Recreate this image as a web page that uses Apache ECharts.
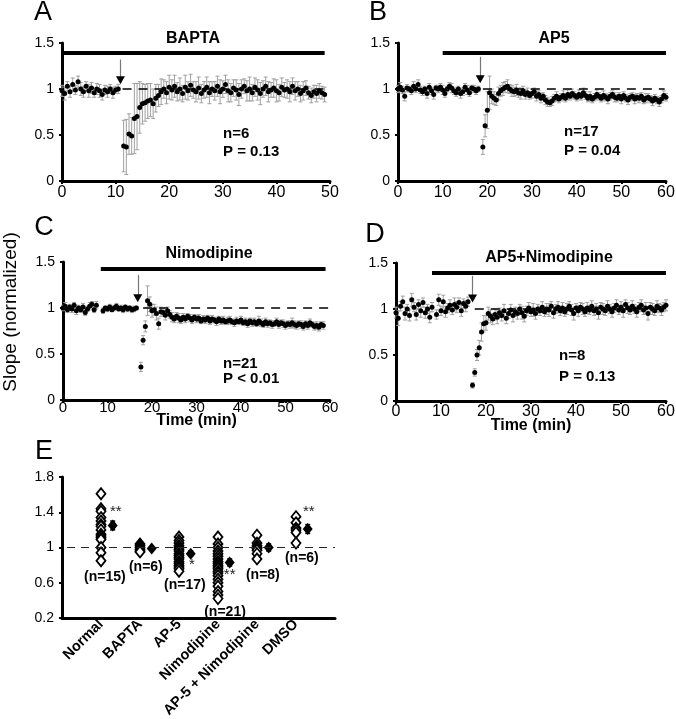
<!DOCTYPE html>
<html><head><meta charset="utf-8">
<script src="https://cdn.jsdelivr.net/npm/echarts@6/dist/echarts.min.js"></script>
<style>html,body{margin:0;padding:0;background:#fff}#c{width:676px;height:719px}</style>
</head><body><div id="c"></div>
<script>
const FONT = "'Liberation Sans', Arial, sans-serif";
const STEP = 0.5; // minutes between sweeps

// Panel A: BAPTA (t = 0 .. 49 min)
const slopeA = [0.98,0.95,1.03,0.97,1.05,0.99,1.08,1.00,0.97,1.03,0.98,1.01,0.96,1.00,0.98,0.94,0.99,0.97,1.00,0.96,0.99,1.00,
 null,
 0.38,0.37,0.51,0.49,0.68,0.70,0.80,0.84,0.85,0.87,
 0.88,0.84,0.90,0.93,0.97,1.00,0.96,1.02,0.99,1.03,
 0.97,1.00,0.95,1.02,0.98,1.04,0.99,0.97,1.01,0.95,
 0.99,1.02,0.96,1.00,0.98,1.03,0.97,1.00,1.05,0.98,
 0.96,1.01,0.99,0.94,1.00,1.03,0.98,1.00,0.96,1.02,
 0.99,0.95,1.00,1.03,0.97,0.99,1.01,0.98,0.96,1.02,
 0.99,1.00,0.97,1.03,0.98,1.00,0.95,0.98,1.01,0.96,
 0.93,0.97,0.95,0.98,0.96,0.94];
const errA = [0.06,0.07,0.05,0.06,0.07,0.05,0.06,0.07,0.06,0.05,0.07,0.06,0.05,0.06,0.07,0.06,0.05,0.06,0.05,0.06,0.04,0.05,
 null,
 0.28,0.30,0.22,0.20,0.38,0.36,0.28,0.22,0.20,0.19,
 0.18,0.16,0.15,0.12,0.14,0.10,0.12,0.13,0.11,0.12,
 0.10,0.12,0.09,0.13,0.10,0.12,0.09,0.11,0.12,0.10,
 0.09,0.11,0.12,0.08,0.10,0.11,0.13,0.09,0.10,0.12,
 0.10,0.09,0.11,0.12,0.10,0.08,0.11,0.13,0.09,0.10,
 0.11,0.12,0.09,0.10,0.11,0.08,0.10,0.12,0.09,0.10,
 0.08,0.10,0.11,0.09,0.10,0.08,0.09,0.10,0.08,0.07,
 0.08,0.07,0.09,0.08,0.07,0.08];

// Panel B: AP5 (t = 0 .. 60 min)
const slopeB = [1.00,1.02,0.99,0.92,1.01,1.00,0.98,1.03,1.00,1.05,
 0.99,0.97,1.00,0.95,1.02,0.98,0.94,1.01,1.00,1.02,
 0.99,0.95,1.00,1.03,1.01,0.98,0.96,1.00,0.95,0.97,
 1.02,0.99,0.96,1.01,1.00,0.98,1.00,
 null,
 0.37,0.60,0.77,0.96,0.92,0.90,0.88,0.95,0.98,1.00,
 1.02,1.03,1.00,0.98,0.97,0.99,0.96,0.95,0.98,0.94,
 0.96,0.93,0.95,0.97,0.92,0.94,0.90,0.92,0.88,0.86,
 0.85,0.87,0.90,0.92,0.89,0.91,0.93,0.90,0.94,0.92,
 0.95,0.93,0.91,0.94,0.92,0.96,0.93,0.90,0.92,0.89,
 0.91,0.94,0.92,0.90,0.93,0.91,0.89,0.92,0.94,0.91,
 0.90,0.92,0.89,0.93,0.90,0.88,0.91,0.92,0.89,0.91,
 0.90,0.92,0.88,0.90,0.91,0.89,0.87,0.90,0.88,0.86,
 0.89,0.93,0.91];
const errB = [0.04,0.05,0.04,0.05,0.04,0.03,0.04,0.05,0.04,0.05,
 0.04,0.04,0.03,0.05,0.04,0.04,0.05,0.03,0.04,0.04,
 0.05,0.04,0.03,0.04,0.05,0.04,0.04,0.03,0.05,0.04,
 0.04,0.05,0.04,0.03,0.04,0.04,0.03,
 null,
 0.08,0.12,0.20,0.18,0.08,0.07,0.06,0.07,0.06,0.07,
 0.06,0.07,0.05,0.06,0.05,0.06,0.05,0.06,0.05,0.05,
 0.05,0.04,0.05,0.04,0.05,0.04,0.05,0.04,0.05,0.05,
 0.04,0.05,0.04,0.05,0.04,0.04,0.05,0.04,0.05,0.04,
 0.05,0.04,0.04,0.05,0.04,0.05,0.04,0.04,0.05,0.04,
 0.04,0.05,0.04,0.04,0.05,0.04,0.05,0.04,0.04,0.05,
 0.04,0.04,0.05,0.04,0.04,0.05,0.04,0.04,0.05,0.04,
 0.05,0.04,0.04,0.05,0.04,0.04,0.05,0.04,0.04,0.05,
 0.04,0.05,0.04];

// Panel C: Nimodipine (t = 0 .. 58.5 min)
const slopeC = [1.00,1.02,0.98,1.01,0.99,1.03,0.97,1.00,0.98,1.01,0.95,0.99,1.02,1.04,0.98,1.03,
 null,null,
 0.97,1.00,0.99,1.01,0.98,1.00,1.02,0.99,1.00,0.98,1.01,0.99,1.00,0.98,0.99,1.00,
 null,
 0.36,0.65,0.80,1.08,1.04,0.97,0.98,0.94,0.83,0.96,
 0.95,0.92,0.97,0.93,0.90,0.88,0.91,0.89,0.87,0.90,
 0.88,0.91,0.89,0.87,0.90,0.88,0.89,0.86,0.88,0.87,
 0.89,0.86,0.88,0.87,0.85,0.88,0.86,0.87,0.85,0.86,
 0.87,0.85,0.84,0.86,0.85,0.87,0.84,0.85,0.83,0.86,
 0.84,0.85,0.83,0.86,0.84,0.82,0.85,0.83,0.84,0.82,
 0.83,0.85,0.82,0.84,0.83,0.81,0.83,0.82,0.84,0.82,
 0.81,0.83,0.82,0.80,0.83,0.81,0.84,0.82,0.80,0.81,
 0.79,0.82,0.81];
const errC = [0.03,0.04,0.03,0.03,0.04,0.03,0.04,0.03,0.03,0.04,0.03,0.03,0.04,0.03,0.03,0.04,
 null,null,
 0.03,0.02,0.03,0.03,0.02,0.03,0.03,0.02,0.03,0.03,0.02,0.03,0.02,0.03,0.03,0.02,
 null,
 0.05,0.05,0.06,0.16,0.08,0.07,0.06,0.07,0.06,0.05,
 0.04,0.05,0.04,0.04,0.05,0.04,0.04,0.05,0.04,0.04,
 0.04,0.03,0.04,0.04,0.03,0.04,0.04,0.03,0.04,0.04,
 0.03,0.04,0.04,0.03,0.04,0.03,0.04,0.04,0.03,0.04,
 0.04,0.03,0.04,0.04,0.03,0.04,0.03,0.04,0.04,0.03,
 0.04,0.04,0.03,0.05,0.04,0.03,0.04,0.04,0.03,0.04,
 0.03,0.04,0.04,0.03,0.04,0.04,0.03,0.04,0.05,0.04,
 0.04,0.03,0.04,0.04,0.03,0.04,0.04,0.03,0.04,0.04,
 0.04,0.03,0.04];

// Panel D: AP5 + Nimodipine (t = 0 .. 60 min)
const slopeD = [0.96,0.90,1.03,1.08,0.95,1.00,0.93,1.10,1.02,0.94,1.05,0.98,1.07,0.96,1.00,0.91,1.02,
 null,
 0.94,1.10,0.98,1.08,0.97,1.01,1.04,0.99,1.05,1.02,1.07,0.98,1.06,1.03,1.08,
 null,
 0.17,0.31,0.50,0.58,0.75,0.84,0.85,0.95,0.92,0.89,
 0.94,0.91,0.96,0.93,0.98,0.90,0.95,0.99,0.93,0.97,
 0.95,1.00,0.96,0.92,0.98,1.01,0.97,0.99,0.95,1.00,
 0.98,1.02,0.97,1.00,0.99,1.03,0.96,1.00,1.02,0.98,
 1.01,0.97,1.00,1.03,0.99,0.95,1.01,0.98,1.02,1.00,
 0.97,1.01,0.99,1.03,0.98,1.00,0.96,1.02,1.00,0.98,
 1.03,1.00,0.97,1.01,1.04,0.99,1.02,0.98,1.05,1.01,
 0.99,1.03,1.00,0.97,1.02,1.04,0.99,1.01,0.95,1.02,
 1.00,0.98,1.03,1.01,0.99,1.02,1.04];
const errD = [0.06,0.08,0.05,0.06,0.07,0.05,0.06,0.07,0.05,0.06,0.05,0.07,0.05,0.06,0.05,0.06,0.05,
 null,
 0.05,0.06,0.05,0.07,0.06,0.05,0.06,0.05,0.07,0.06,0.05,0.06,0.05,0.06,0.05,
 null,
 0.03,0.04,0.06,0.08,0.10,0.09,0.08,0.07,0.07,0.06,
 0.06,0.07,0.05,0.06,0.07,0.06,0.05,0.06,0.07,0.05,
 0.06,0.05,0.07,0.06,0.05,0.06,0.05,0.07,0.06,0.05,
 0.05,0.06,0.05,0.06,0.07,0.05,0.06,0.05,0.06,0.05,
 0.06,0.05,0.06,0.05,0.06,0.07,0.05,0.06,0.05,0.06,
 0.05,0.06,0.05,0.06,0.05,0.06,0.07,0.05,0.06,0.05,
 0.06,0.05,0.06,0.05,0.06,0.05,0.06,0.07,0.05,0.06,
 0.05,0.06,0.05,0.06,0.05,0.06,0.05,0.06,0.07,0.05,
 0.06,0.05,0.06,0.05,0.06,0.05,0.06];

// Panel E: individual normalized slopes
const catNames = ['Normal','BAPTA','AP-5','Nimodipine','AP-5 + Nimodipine','DMSO'];
const normalVals = [1.61,1.44,1.41,1.34,1.30,1.26,1.24,1.20,1.15,1.13,1.11,1.09,1.00,0.94,0.85];
const baptaVals = [1.04,1.02,1.00,0.98,0.96,0.95];
const ap5Vals = [1.12,1.08,1.05,1.02,1.00,0.98,0.96,0.93,0.91,0.89,0.87,0.84,0.82,0.80,0.78,0.76,0.73];
const nimoVals = [1.12,1.04,1.00,0.96,0.93,0.90,0.87,0.84,0.82,0.80,0.78,0.76,0.73,0.71,0.68,0.64,0.60,0.56,0.50,0.46,0.42];
const ap5NimoVals = [1.14,1.05,1.02,1.00,0.99,0.97,0.93,0.87];
const dmsoVals = [1.35,1.28,1.22,1.20,1.17,1.05];
const meanVals = [1.25,0.99,0.93,0.83,1.00,1.21];
const meanErr = [0.05,0.02,0.03,0.04,0.04,0.05];
const sigMarks = ['**','','*','**','','**'];

// ---------- annotation layout (not data) ----------
const panels = [
  {vals: slopeA, errs: errA, xmax: 50, arrow: [10.9, 1.32, 1.05], bar: [0, 49, 1.39], dash: [11.3, 49.5]},
  {vals: slopeB, errs: errB, xmax: 60, arrow: [18.4, 1.35, 1.06], bar: [10, 60, 1.39], dash: [19, 59.7]},
  {vals: slopeC, errs: errC, xmax: 60, arrow: [16.8, 1.36, 1.06], bar: [8.5, 59, 1.43], dash: [18, 59.7]},
  {vals: slopeD, errs: errD, xmax: 60, arrow: [17.0, 1.36, 1.07], bar: [8, 60, 1.39], dash: [17.5, 60]}
];
const grids = [
  {left: 62, top: 43, width: 268, height: 138},
  {left: 398, top: 43, width: 268, height: 138},
  {left: 63, top: 262, width: 267, height: 138},
  {left: 396, top: 263, width: 270, height: 138},
  {left: 62, top: 477, width: 273, height: 141}
].map(g => Object.assign(g, {containLabel: false, outerBoundsMode: 'none'}));
const xLabelMargin = [4, 4, 0, 3];
const xLabelSize = [16, 16, 15, 16];
const xNameGap = [0, 0, 13, 17];

function errRender(color, cap, width) {
  return function (params, api) {
    const x = api.value(0), y = api.value(1), e = api.value(2);
    const hi = api.coord([x, y + e]), lo = api.coord([x, y - e]);
    const st = {stroke: color, lineWidth: width};
    return {type: 'group', children: [
      {type: 'line', shape: {x1: hi[0], y1: hi[1], x2: lo[0], y2: lo[1]}, style: st},
      {type: 'line', shape: {x1: hi[0] - cap, y1: hi[1], x2: hi[0] + cap, y2: hi[1]}, style: st},
      {type: 'line', shape: {x1: lo[0] - cap, y1: lo[1], x2: lo[0] + cap, y2: lo[1]}, style: st}
    ]};
  };
}

const axisLineStyle = {show: true, onZero: false, lineStyle: {color: '#000', width: 3}};
const tickStyle = {show: true, length: 3, lineStyle: {color: '#000', width: 2}};

const xAxes = [], yAxes = [], series = [];
panels.forEach((p, gi) => {
  xAxes.push({gridIndex: gi, type: 'value', min: 0, max: p.xmax, interval: 10,
    axisLine: axisLineStyle, axisTick: tickStyle, splitLine: {show: false},
    axisLabel: {color: '#000', fontSize: xLabelSize[gi], fontFamily: FONT, margin: xLabelMargin[gi]},
    name: gi >= 2 ? 'Time (min)' : '', nameLocation: 'middle', nameGap: xNameGap[gi], nameMoveOverlap: false,
    nameTextStyle: {color: '#000', fontSize: 16, fontWeight: 'bold', fontFamily: FONT}});
  yAxes.push({gridIndex: gi, type: 'value', min: 0, max: 1.5, interval: 0.5,
    axisLine: axisLineStyle, axisTick: tickStyle, splitLine: {show: false},
    axisLabel: {color: '#000', fontSize: 14, fontFamily: FONT, margin: 8}});
  const pts = [], eb = [];
  p.vals.forEach((v, i) => { if (v == null) return; const t = i * STEP; pts.push([t, v]); eb.push([t, v, p.errs[i]]); });
  const barStyle = {color: '#000', width: 4, type: 'solid'};
  const dashStyle = {color: '#000', width: 1.5, type: [9, 7]};
  const shaftStyle = {color: '#777', width: 1.2, type: 'solid'};
  series.push({type: 'custom', xAxisIndex: gi, yAxisIndex: gi, data: eb, encode: {x: 0, y: 1},
    renderItem: errRender('#a0a0a0', 2, 1), z: 1, silent: true,
    markLine: {silent: true, symbol: 'none', label: {show: false}, animation: false,
      data: [
        [{coord: [p.bar[0], p.bar[2]], lineStyle: barStyle}, {coord: [p.bar[1], p.bar[2]], lineStyle: barStyle}],
        [{coord: [p.dash[0], 1], lineStyle: dashStyle}, {coord: [p.dash[1], 1], lineStyle: dashStyle}],
        [{coord: [p.arrow[0], p.arrow[1]], lineStyle: shaftStyle}, {coord: [p.arrow[0], p.arrow[2] + 0.07], lineStyle: shaftStyle}]
      ]}});
  series.push({type: 'scatter', xAxisIndex: gi, yAxisIndex: gi, data: pts, symbol: 'circle', symbolSize: 5,
    itemStyle: {color: '#000', opacity: 1}, z: 3, silent: true,
    markPoint: {symbol: 'triangle', symbolSize: [9, 8], symbolRotate: 180, silent: true, animation: false,
      itemStyle: {color: '#000', opacity: 1}, label: {show: false},
      data: [{coord: [p.arrow[0], p.arrow[2] + 0.045]}]}});
});

// Panel E
const groups = [normalVals, baptaVals, ap5Vals, nimoVals, ap5NimoVals, dmsoVals];
xAxes.push({gridIndex: 4, type: 'value', min: 0, max: 7, interval: 1,
  axisLine: axisLineStyle, axisTick: {show: false}, splitLine: {show: false},
  axisLabel: {color: '#000', fontSize: 14.5, fontWeight: 'bold', fontFamily: FONT, rotate: 45, margin: 4,
    formatter: v => (v >= 1 && v <= 6) ? catNames[v - 1] : ''}});
yAxes.push({gridIndex: 4, type: 'value', min: 0.2, max: 1.8, interval: 0.4,
  axisLine: axisLineStyle, axisTick: tickStyle, splitLine: {show: false},
  axisLabel: {color: '#000', fontSize: 14, fontFamily: FONT, margin: 8}});
const meanOffset = 0.3;
const lineE = {color: '#222', width: 1, type: [8, 6]};
series.push({type: 'custom', xAxisIndex: 4, yAxisIndex: 4,
  data: meanVals.map((m, k) => [k + 1 + meanOffset, m, meanErr[k]]), encode: {x: 0, y: 1},
  renderItem: errRender('#000', 2.5, 1.5), z: 1, silent: true,
  markLine: {silent: true, symbol: 'none', label: {show: false}, animation: false,
    data: [[{coord: [0.13, 1], lineStyle: lineE}, {coord: [7, 1], lineStyle: lineE}]]}});
series.push({type: 'scatter', xAxisIndex: 4, yAxisIndex: 4, z: 2, silent: true,
  data: groups.flatMap((g, k) => g.map(v => [k + 1, v])),
  symbol: 'diamond', symbolSize: [9, 11],
  itemStyle: {color: '#fff', borderColor: '#000', borderWidth: 1.8, opacity: 1}});
series.push({type: 'scatter', xAxisIndex: 4, yAxisIndex: 4, z: 3, silent: true,
  data: meanVals.map((m, k) => [k + 1 + meanOffset, m]),
  symbol: 'diamond', symbolSize: [10, 12], itemStyle: {color: '#000', opacity: 1}});
// n labels and significance marks placed in data space
const nLabelPos = [[1.1, 0.665], [2.15, 0.78], [3.15, 0.575], [4.18, 0.27], [5.15, 0.69], [6.15, 0.88]];
const sigPos = [[1.38, 1.41], [2.4, 1.0], [3.33, 0.80], [4.3, 0.69], [5.4, 1.0], [6.33, 1.40]];
series.push({type: 'scatter', xAxisIndex: 4, yAxisIndex: 4, z: 4, silent: true, symbolSize: 0,
  itemStyle: {opacity: 1},
  data: groups.map((g, k) => ({value: nLabelPos[k], name: '(n=' + g.length + ')'})),
  label: {show: true, position: 'inside', formatter: '{b}', color: '#000', fontSize: 14, fontWeight: 'bold', fontFamily: FONT}});
series.push({type: 'scatter', xAxisIndex: 4, yAxisIndex: 4, z: 4, silent: true, symbolSize: 0,
  itemStyle: {opacity: 1},
  data: sigMarks.map((s, k) => ({value: sigPos[k], name: s})).filter(d => d.name),
  label: {show: true, position: 'inside', formatter: '{b}', color: '#222', fontSize: 15, fontFamily: FONT}});

function txt(text, x, y, font, align, extra) {
  return Object.assign({type: 'text', x, y, silent: true,
    style: {text, font, fill: '#000', textAlign: align || 'center', textVerticalAlign: 'middle'}}, extra || {});
}
const letterFont = '27px ' + FONT, titleFont = 'bold 16px ' + FONT, statFont = 'bold 15px ' + FONT;
const graphics = [
  txt('A', 43, 13, letterFont), txt('B', 378, 13, letterFont), txt('C', 44, 228, letterFont),
  txt('D', 375, 235, letterFont), txt('E', 44, 452, letterFont),
  txt('BAPTA', 193, 39, titleFont), txt('AP5', 554, 39, titleFont),
  txt('Nimodipine', 209, 254, titleFont), txt('AP5+Nimodipine', 549, 258, titleFont),
  txt('n=6', 223, 134, statFont, 'left'), txt('P = 0.13', 223, 152, statFont, 'left'),
  txt('n=17', 564, 132, statFont, 'left'), txt('P = 0.04', 564, 151, statFont, 'left'),
  txt('n=21', 223, 364, statFont, 'left'), txt('P < 0.01', 223, 379, statFont, 'left'),
  txt('n=8', 559, 356, statFont, 'left'), txt('P = 0.13', 559, 377, statFont, 'left'),
  txt('Slope (normalized)', 11, 312, '19px ' + FONT, 'center', {rotation: Math.PI / 2})
];

const chart = echarts.init(document.getElementById('c'), null, {renderer: 'canvas'});
chart.setOption({
  animation: false,
  backgroundColor: '#fff',
  grid: grids,
  xAxis: xAxes,
  yAxis: yAxes,
  series: series,
  graphic: graphics
});
</script>
</body></html>
